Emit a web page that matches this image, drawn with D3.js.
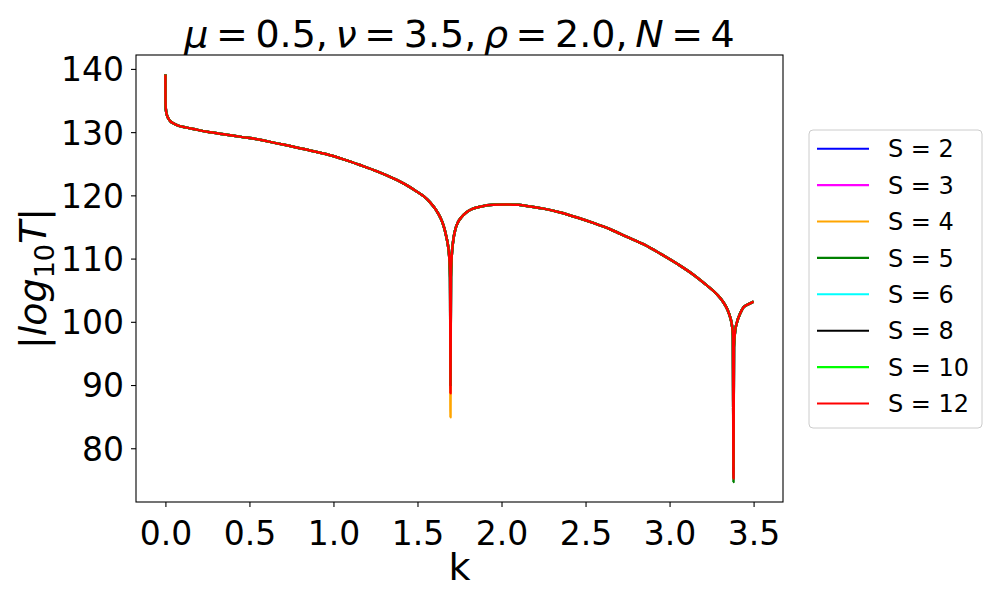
<!DOCTYPE html>
<html>
<head>
<meta charset="utf-8">
<script src="https://cdn.jsdelivr.net/npm/d3@7"></script>
<style>
  body { margin: 0; background: #fff; }
  svg, svg text { font-family: "DejaVu Sans", sans-serif; }
  .tick text { font-size: 33px; fill: #000; font-family: "DejaVu Sans", sans-serif; }
  .tick line { stroke: #000; stroke-width: 1.1; }
  .domain { display: none; }
</style>
</head>
<body>
<div id="chart"></div>
<script>
// k grid and the common |log10 T| curve
const kVals = [
  0.000, 0.0005, 0.002, 0.008, 0.017, 0.03, 0.047, 0.08, 0.12, 0.166,
  0.25, 0.365, 0.45, 0.563, 0.65, 0.761, 0.86, 0.96, 1.06, 1.158,
  1.26, 1.356, 1.43, 1.495, 1.54, 1.575, 1.61, 1.634, 1.655, 1.672,
  1.683, 1.690, 1.694, 1.6965, 1.699, 1.703, 1.713, 1.725, 1.74, 1.76,
  1.79, 1.83, 1.88, 1.95, 2.03, 2.10, 2.18, 2.25, 2.35, 2.45,
  2.55, 2.65, 2.75, 2.85, 2.95, 3.05, 3.15, 3.22, 3.28, 3.32,
  3.345, 3.362, 3.372, 3.377, 3.3805, 3.383, 3.39, 3.40, 3.42, 3.44,
  3.47, 3.50
];
const logT = [
  139.1, 135.0, 133.8, 132.8, 132.2, 131.7, 131.4, 131.0, 130.75, 130.5,
  130.05, 129.6, 129.25, 128.8, 128.3, 127.7, 127.1, 126.5, 125.7, 124.8,
  123.8, 122.7, 121.7, 120.6, 119.8, 118.9, 117.7, 116.6, 115.2, 113.4,
  111.8, 109.8, 107.0, 88.7, 107.0, 110.0, 112.9, 114.6, 115.7, 116.5,
  117.3, 117.9, 118.25, 118.5, 118.57, 118.5, 118.2, 117.9, 117.3, 116.5,
  115.6, 114.6, 113.4, 112.2, 110.7, 109.1, 107.3, 105.8, 104.4, 103.1,
  101.9, 100.6, 99.3, 97.8, 75.2, 96.0, 98.5, 99.8, 101.3, 102.3,
  102.8, 103.2
];
const dipK = [1.6965, 3.3805];

const seriesLabels = ['S = 2', 'S = 3', 'S = 4', 'S = 5', 'S = 6', 'S = 8', 'S = 10', 'S = 12'];
const seriesColors = ['blue', 'magenta', 'orange', 'green', 'cyan', 'black', 'lime', 'red'];
// depth reached in each of the two dips
const dip1Min = [90.0, 90.0, 84.9, 90.0, 90.0, 90.0, 90.0, 88.7];
const dip2Min = [77.0, 77.0, 77.0, 74.65, 77.0, 77.0, 77.0, 75.2];

const xTicks = [0, 0.5, 1, 1.5, 2, 2.5, 3, 3.5];
const yTicks = [80, 90, 100, 110, 120, 130, 140];

const width = 1000, height = 600;
const margin = {top: 55, right: 217, bottom: 98, left: 136};
const w = width - margin.left - margin.right;
const h = height - margin.top - margin.bottom;

const series = seriesLabels.map((name, s) => ({
  name: name,
  color: seriesColors[s],
  points: kVals.map((k, i) => ({
    k: k,
    v: k === dipK[0] ? dip1Min[s] : k === dipK[1] ? dip2Min[s] : logT[i]
  }))
}));

const x = d3.scaleLinear().domain([-0.175, 3.675]).range([0, w]);
const y = d3.scaleLinear().domain([71.5, 142.2]).range([h, 0]);

const svg = d3.select('#chart').append('svg')
  .attr('width', width)
  .attr('height', height);

const chart = svg.append('g')
  .attr('transform', 'translate(' + margin.left + ',' + margin.top + ')');

chart.append('clipPath').attr('id', 'clip')
  .append('rect').attr('width', w).attr('height', h);

const line = d3.line()
  .curve(d3.curveMonotoneX)
  .x(d => x(d.k))
  .y(d => y(d.v));

chart.append('g')
  .attr('clip-path', 'url(#clip)')
  .selectAll('path')
  .data(series)
  .enter()
  .append('path')
  .attr('fill', 'none')
  .attr('stroke', d => d.color)
  .attr('stroke-width', 2.5)
  .attr('stroke-linejoin', 'round')
  .attr('d', d => line(d.points));

// axes
const xAxis = chart.append('g')
  .attr('transform', 'translate(0,' + h + ')')
  .call(d3.axisBottom(x).tickValues(xTicks).tickFormat(d3.format('.1f')).tickSize(5).tickPadding(7));
xAxis.selectAll('.tick text').attr('dy', '0.95em');

const yAxis = chart.append('g')
  .call(d3.axisLeft(y).tickValues(yTicks).tickSize(5).tickPadding(7));
yAxis.selectAll('.tick text').attr('dy', '0.36em');

chart.selectAll('.tick text')
  .attr('font-family', '"DejaVu Sans", sans-serif')
  .attr('font-size', 33);

chart.append('rect')
  .attr('width', w).attr('height', h)
  .attr('fill', 'none').attr('stroke', '#000').attr('stroke-width', 1.1);

// title
const title = svg.append('text')
  .attr('x', margin.left + w / 2)
  .attr('y', 47)
  .attr('text-anchor', 'middle')
  .attr('font-size', 38)
  .attr('xml:space', 'preserve');
[['μ', true], ['\u2009=\u20090.5,\u2009', false], ['ν', true], ['\u2009=\u20093.5,\u2009', false],
 ['ρ', true], ['\u2009=\u20092.0,\u2009', false], ['N', true], ['\u2009=\u20094', false]].forEach(p => {
  title.append('tspan').attr('font-style', p[1] ? 'italic' : 'normal').text(p[0]);
});

// x label
svg.append('text')
  .attr('x', margin.left + w / 2)
  .attr('y', 580)
  .attr('text-anchor', 'middle')
  .attr('font-size', 38)
  .text('k');

// y label
const ylab = svg.append('text')
  .attr('transform', 'translate(46,' + (margin.top + h / 2) + ') rotate(-90)')
  .attr('text-anchor', 'middle')
  .attr('font-size', 38);
ylab.append('tspan').text('|');
ylab.append('tspan').attr('font-style', 'italic').text('log');
ylab.append('tspan').attr('font-size', 27).attr('dy', 8).text('10');
ylab.append('tspan').attr('font-style', 'italic').attr('dy', -8).text('T');
ylab.append('tspan').text('|');

// legend
const legend = svg.append('g').attr('transform', 'translate(809,130)');
legend.append('rect')
  .attr('width', 173).attr('height', 298)
  .attr('rx', 4)
  .attr('fill', '#fff').attr('fill-opacity', 0.8)
  .attr('stroke', '#ccc').attr('stroke-width', 1);

const rows = legend.selectAll('.row')
  .data(series)
  .enter()
  .append('g')
  .attr('class', 'row')
  .attr('transform', (d, i) => 'translate(0,' + (18.7 + i * 36.4) + ')');

rows.append('line')
  .attr('x1', 8).attr('x2', 60)
  .attr('stroke', d => d.color)
  .attr('stroke-width', 2.1);

rows.append('text')
  .attr('x', 79)
  .attr('dy', '0.36em')
  .attr('font-size', 24)
  .text(d => d.name);
</script>
</body>
</html>
